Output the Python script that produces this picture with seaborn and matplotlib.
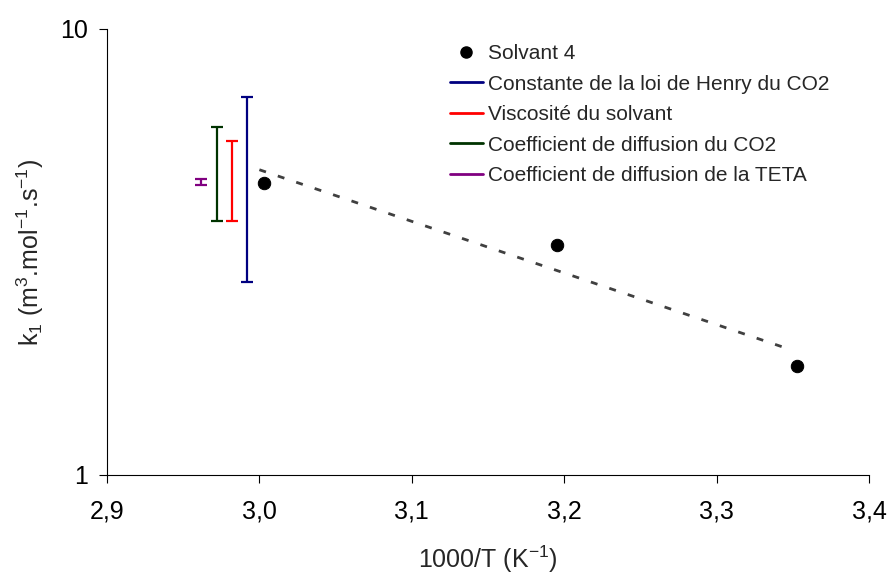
import numpy as np
import pandas as pd
import seaborn as sns
import matplotlib.pyplot as plt
from matplotlib.lines import Line2D
from matplotlib.ticker import FixedLocator, FuncFormatter, NullLocator

# Solvant 4 data
inv_T = [3.003, 3.195, 3.353]
k1 = [4.52, 3.28, 1.756]

# Uncertainty bars (x position, low, high)
err_labels = ["Constante de la loi de Henry du CO2", "Viscosité du solvant",
              "Coefficient de diffusion du CO2", "Coefficient de diffusion de la TETA"]
err_x = [2.992, 2.982, 2.972, 2.962]
err_low = [2.71, 3.71, 3.71, 4.46]
err_high = [7.04, 5.61, 6.03, 4.62]
err_colors = ["#000080", "#FF0000", "#003300", "#800080"]

sns.set_style("ticks")
plt.rcParams['font.family'] = ['Liberation Sans', 'DejaVu Sans']
plt.rcParams['mathtext.default'] = 'regular'

fig = plt.figure(figsize=(8.9, 5.74), dpi=100)
ax = fig.add_axes([0.1202, 0.1725, 0.8562, 0.777])

df = pd.DataFrame({'x': inv_T, 'y': k1})
sns.scatterplot(data=df, x='x', y='y', ax=ax, color='black', s=80,
                edgecolor='black', zorder=3, legend=False)

# exponential trend line (fit in log space)
slope, icpt = np.polyfit(df['x'], np.log10(df['y']), 1)
tx = np.array([3.0, 3.35])
trend = pd.DataFrame({'x': tx, 'y': 10 ** (icpt + slope * tx)})
sns.lineplot(data=trend, x='x', y='y', ax=ax, color='#404040', lw=2,
             dashes=False, linestyle=(0, (2.5, 4.5)))

for xi, lo, hi, c in zip(err_x, err_low, err_high, err_colors):
    mid = (lo + hi) / 2
    ax.errorbar([xi], [mid], yerr=[[mid - lo], [hi - mid]], fmt='none',
                ecolor=c, elinewidth=1.6, capsize=4, capthick=1.6)

ax.set_yscale('log')
ax.set_ylim(1, 10)
ax.set_xlim(2.9, 3.4)
ax.yaxis.set_major_locator(FixedLocator([1, 10]))
ax.yaxis.set_minor_locator(NullLocator())
ax.yaxis.set_major_formatter(FuncFormatter(lambda v, p: f"{v:g}"))
ax.set_xticks(np.arange(2.9, 3.41, 0.1))
ax.xaxis.set_major_formatter(FuncFormatter(lambda v, p: f"{v:.1f}".replace('.', ',')))

for s in ['top', 'right']:
    ax.spines[s].set_visible(False)
for s in ['left', 'bottom']:
    ax.spines[s].set_color('black')
    ax.spines[s].set_linewidth(0.8)
ax.tick_params(axis='both', direction='out', length=6, width=0.8, color='black',
               labelsize=18, labelcolor='black')
ax.tick_params(axis='x', pad=12)
ax.tick_params(axis='y', pad=8)

ax.set_xlabel("1000/T (K$^{-1}$)", fontsize=18, labelpad=14)
ax.set_ylabel("k$_1$ (m$^3$.mol$^{-1}$.s$^{-1}$)", fontsize=18, labelpad=10)

handles = [Line2D([], [], marker='o', color='black', linestyle='none', markersize=8)]
handles += [Line2D([], [], color=c, lw=2) for c in err_colors]
labels = ["Solvant 4"] + err_labels
ax.legend(handles, labels, loc='upper left', bbox_to_anchor=(0.445, 0.975),
          frameon=False, fontsize=15, handlelength=1.55, handletextpad=0.25,
          labelspacing=0.55, borderaxespad=0.0, borderpad=0.2)

fig.savefig('out.png', dpi=100)
